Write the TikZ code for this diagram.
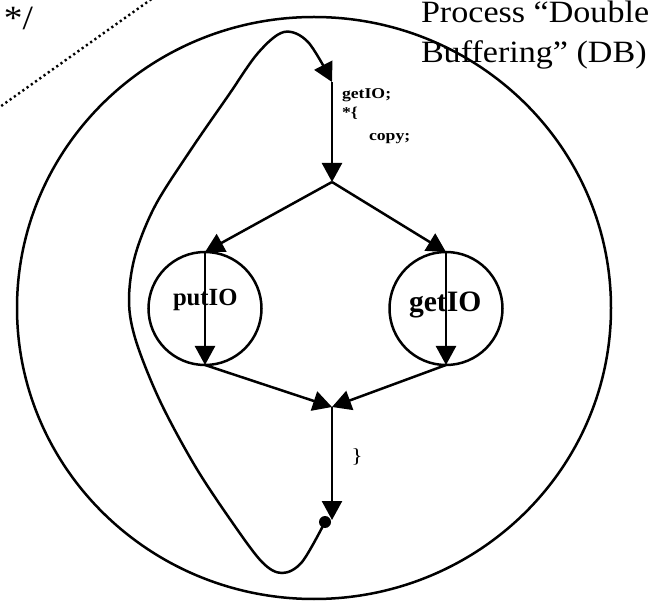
\documentclass[tikz,border=0pt]{standalone}
\usepackage{fontspec}
\setmainfont{Liberation Serif}
\newfontfamily\titlefont[FakeStretch=1.1]{Liberation Serif}
\newfontfamily\smallfont[FakeStretch=1.18]{Liberation Serif}
\usetikzlibrary{arrows.meta,shapes.geometric}
\begin{document}
\begin{tikzpicture}[x=1pt,y=1pt,
  arr/.style={line width=2.5pt,-{Triangle[length=19pt,width=20pt]}},
  proc/.style={draw,circle,line width=2.5pt,minimum size=113pt,inner sep=0pt,outer sep=0pt},
  lbl/.style={inner sep=0pt,outer sep=0pt,anchor=base west},
  small/.style={lbl,font=\smallfont\bfseries\fontsize{15}{15}\selectfont},
  big/.style={lbl,font=\titlefont\fontsize{31}{31}\selectfont}]
\useasboundingbox (0,0) rectangle (654,606);
% outer process boundary
\node[draw,ellipse,line width=2.5pt,minimum width=594pt,minimum height=582pt,inner sep=0pt,outer sep=0pt] (outer) at (314,298) {};
% dotted pointer
\coordinate (d1) at (-3,497);
\coordinate (d2) at (153,608);
\draw[line width=2.4pt,dash pattern=on 2.2pt off 3pt] (d1) -- (d2);
% texts
\node[big,font=\titlefont\fontsize{34}{34}\selectfont] (cmt) at (4,576) {*/};
\node[big] (t1) at (421,583) {Process “Double};
\node[big] (t2) at (421,543) {Buffering” (DB)};
% structure
\coordinate (T) at (332,524);
\coordinate (J1) at (332,424);
\coordinate (J2) at (332,199);
\coordinate (B) at (332,86);
\node[proc] (putc) at (205,297.5) {};
\node[proc] (getc) at (446,297.5) {};
\node[lbl,font=\bfseries\fontsize{24.7}{25}\selectfont] (putl) at (173,300) {putIO};
\node[lbl,font=\bfseries\fontsize{29.6}{30}\selectfont] (getl) at (409,294) {getIO};
\node[fill,circle,inner sep=0pt,minimum size=12pt] (dot) at (325,84) {};
% loop
\draw[arr] plot[smooth,tension=0.55] coordinates {(dot.center) (302,44) (282,33) (262,44) (232,84) (195,140) (160,205) (136,265) (129,305) (135,350) (155,400) (190,455) (228,510) (258,553) (284,574) (308,564) (T)};
% arrows
\draw[arr] (T) -- (J1);
\draw[arr] (J1) -- (putc.north);
\draw[arr] (J1) -- (getc.north);
\draw[arr] (putc.north) -- (putc.south);
\draw[arr] (getc.north) -- (getc.south);
\draw[arr] (putc.south) -- (J2);
\draw[arr] (getc.south) -- (J2);
\draw[arr] (J2) -- (B);
% code labels
\node[small] (c1) at (342,507) {getIO;};
\node[small] (c2) at (342,488) {*\{};
\node[small] (c3) at (369,465) {copy;};
\node[lbl,font=\smallfont\fontsize{20}{20}\selectfont,anchor=center] (c4) at (357,149) {\}};
\end{tikzpicture}
\end{document}
